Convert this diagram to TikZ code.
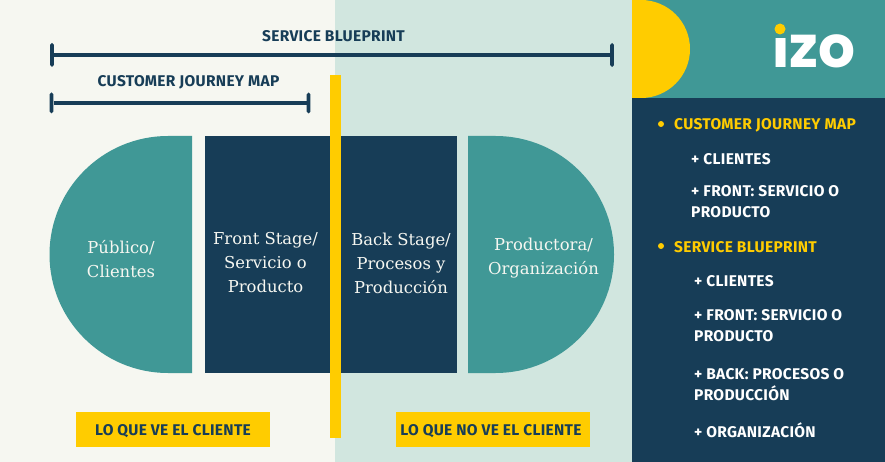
\documentclass[tikz,border=0pt]{standalone}
\usepackage{fontspec}
\setmainfont{DejaVu Serif}
\setsansfont[LetterSpace=2]{Fira Sans}
\newfontfamily\logofont{Poppins}
\definecolor{izodark}{HTML}{173D57}
\definecolor{izoteal}{HTML}{409896}
\definecolor{izoyellow}{HTML}{FFCC00}
\definecolor{izocream}{HTML}{F6F7F1}
\definecolor{izomint}{HTML}{D1E6DF}

\begin{document}
\begin{tikzpicture}[x=1pt,y=-1pt,
    stage node/.style={align=center,text=izocream,font=\fontsize{16.4}{24}\selectfont,inner sep=0pt},
    bar node/.style={font=\sffamily\bfseries\fontsize{15.5}{16}\selectfont,text=izodark,inner sep=0pt},
    cap node/.style={fill=izodark,rounded corners=1.8pt,inner sep=0pt,minimum width=3.6pt},
    tag node/.style={fill=izoyellow,minimum width=194pt,minimum height=35pt,inner sep=0pt},
    head node/.style={anchor=west,text=izoyellow,font=\sffamily\bfseries\fontsize{15.5}{21}\selectfont,inner sep=0pt},
    item node/.style={anchor=west,align=left,text=white,font=\sffamily\bfseries\fontsize{15.5}{21}\selectfont,inner sep=0pt},
    dot node/.style={circle,fill=izoyellow,inner sep=0pt,minimum size=6pt}]
   \useasboundingbox (0,0) rectangle (885,462);
   % backgrounds
   \fill[izocream] (0,0) rectangle (335,462);
   \fill[izomint] (335,0) rectangle (632,462);
   \fill[izoteal] (632,0) rectangle (885,98);
   \fill[izodark] (632,98) rectangle (885,462);
   \fill[izoyellow] (632,0) -- (641,0) arc[start angle=90,end angle=-90,radius=49pt] -- (632,98) -- cycle;
   % stages
   \fill[izoteal] (192,136) -- (168,136) arc[start angle=90,end angle=270,radius=118.5pt] -- (192,373) -- cycle;
   \fill[izodark] (205,136) rectangle (457,373);
   \fill[izoteal] (468,136) -- (495.5,136) arc[start angle=90,end angle=-90,radius=118.5pt] -- (468,373) -- cycle;
   \fill[izoyellow] (330,75) rectangle (341,438);
   \node[stage node] (publico) at (121,259) {Público/\\Clientes};
   \node[stage node] (front) at (265.5,263) {Front Stage/\\Servicio o\\Producto};
   \node[stage node] (back) at (401,263) {Back Stage/\\Procesos y\\Producción};
   \node[stage node] (productora) at (543.5,258) {Productora/\\Organización};
   % brackets
   \node[cap node,minimum height=24pt] (sb left) at (52,55) {};
   \node[cap node,minimum height=24pt] (sb right) at (612,55) {};
   \node[cap node,minimum height=21pt] (cjm left) at (51.5,103) {};
   \node[cap node,minimum height=21pt] (cjm right) at (308.5,103) {};
   \path[-,line width=3.6pt,draw=izodark] (sb left) edge (sb right);
   \path[-,line width=3.6pt,draw=izodark] (cjm left) edge (cjm right);
   \node[bar node] (sb label) at (333.5,36.5) {SERVICE BLUEPRINT};
   \node[bar node] (cjm label) at (188.5,82.5) {CUSTOMER JOURNEY MAP};
   \node[tag node] (ve) at (173,429.5) {};
   \node[tag node] (no ve) at (493,429.5) {};
   \node[bar node] (ve label) at (173,431) {LO QUE VE EL CLIENTE};
   \node[bar node] (no ve label) at (491,431) {LO QUE NO VE EL CLIENTE};
   % logo
   \node[text=white,font=\logofont\bfseries\fontsize{58}{58}\selectfont,inner sep=0pt,anchor=base west] (logo) at (772,68) {izo};
   \fill[izoteal] (770,15) rectangle (790,38);
   \node[dot node,minimum size=11pt] (logo dot) at (780,29) {};
   % side panel
   \node[dot node] (cjm dot) at (661,124) {};
   \node[head node] (cjm head) at (674,125.5) {CUSTOMER JOURNEY MAP};
   \node[item node] (cjm a) at (691,159) {+ CLIENTES};
   \node[item node] (cjm b) at (691,201.5) {+ FRONT: SERVICIO O\\PRODUCTO};
   \node[dot node] (sb dot) at (661,246) {};
   \node[head node] (sb head) at (674,247) {SERVICE BLUEPRINT};
   \node[item node] (sb a) at (694,281) {+ CLIENTES};
   \node[item node] (sb b) at (694,325.5) {+ FRONT: SERVICIO O\\PRODUCTO};
   \node[item node] (sb c) at (694,384.5) {+ BACK: PROCESOS O\\PRODUCCIÓN};
   \node[item node] (sb d) at (694,430) {+ ORGANIZACIÓN};
  \end{tikzpicture}
\end{document}
